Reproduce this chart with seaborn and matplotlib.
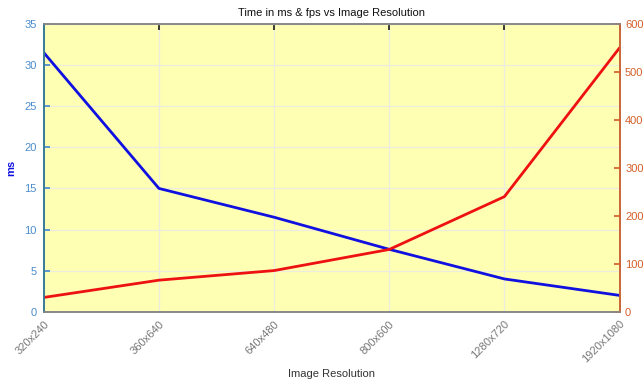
import matplotlib
matplotlib.use("Agg")
import matplotlib.pyplot as plt
import seaborn as sns
import pandas as pd

resolutions = ["320x240", "360x640", "640x480", "800x600", "1280x720", "1920x1080"]
time_ms = [31.5, 15.0, 11.5, 7.6, 4.0, 2.0]
fps = [30, 66, 86, 130, 240, 550]

df = pd.DataFrame({"res": resolutions, "ms": time_ms, "fps": fps})
df["pos"] = range(len(df))

sns.set_theme(style="white")
plt.rcParams["font.family"] = ["Liberation Sans", "DejaVu Sans"]

fig, ax = plt.subplots(figsize=(6.44, 3.85), dpi=100)
fig.subplots_adjust(left=0.068, right=0.962, top=0.938, bottom=0.19)
ax.set_facecolor("#ffffb4")

sns.lineplot(data=df, x="pos", y="ms", ax=ax, color="#1010e0", lw=2)
ax2 = ax.twinx()
sns.lineplot(data=df, x="pos", y="fps", ax=ax2, color="#ee1111", lw=2)

ax.set_xlim(0, len(df) - 1)
ax.set_ylim(0, 35)
ax2.set_ylim(0, 600)
ax.set_yticks(range(0, 36, 5))
ax2.set_yticks(range(0, 601, 100))
ax.set_xticks(df["pos"])
ax.set_xticklabels(resolutions, rotation=45, ha="right", rotation_mode="anchor",
                   color="#777777", fontsize=8)

ax.grid(True, color="#ececdf", lw=0.9)
ax.tick_params(axis="x", direction="in", length=4, top=True, color="#222222", pad=5)
ax.tick_params(axis="y", direction="in", length=4, colors="#4a8ccc", labelsize=8, pad=5)
ax2.tick_params(axis="y", direction="in", length=4, colors="#d4602a", labelsize=8, pad=4)

for a in (ax, ax2):
    for s in a.spines.values():
        s.set_visible(True)
        s.set_color("#888888")
        s.set_linewidth(1.2)
ax2.spines["left"].set_color("#2a7a9a")
ax2.spines["right"].set_color("#d4602a")

ax.set_xlabel("Image Resolution", fontsize=8, color="#333333", labelpad=3)
ax.set_ylabel("ms", fontsize=8, color="#1010e0", fontweight="bold", labelpad=6)
ax2.set_ylabel("")
ax.set_title("Time in ms & fps vs Image Resolution", fontsize=8, color="#111111", pad=6)

fig.savefig("out.png", dpi=100)
